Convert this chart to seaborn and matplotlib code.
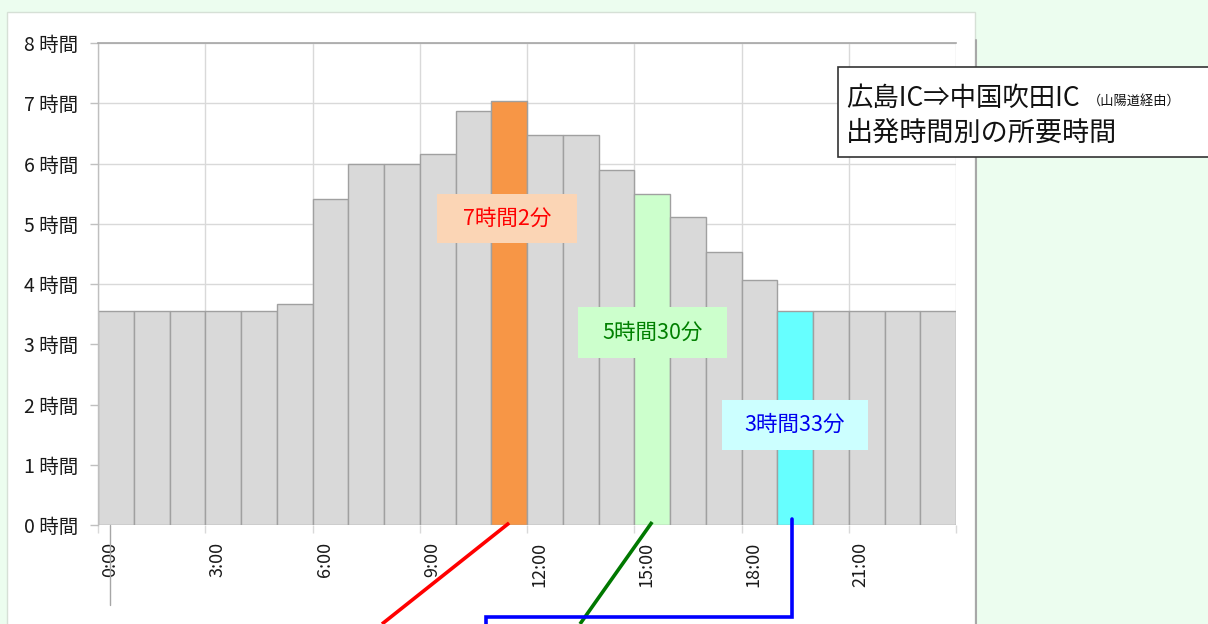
import matplotlib
matplotlib.use("Agg")
import matplotlib.pyplot as plt
import matplotlib.patches as mpatches
from matplotlib.lines import Line2D
import seaborn as sns
import pandas as pd

# ---- data ----
hours = [f"{h}:00" for h in range(24)]
durations = [3.55, 3.55, 3.55, 3.55, 3.55, 3.67, 5.41, 6.0, 6.0, 6.16, 6.87, 7.033,
             6.47, 6.47, 5.89, 5.5, 5.12, 4.53, 4.07, 3.55, 3.55, 3.55, 3.55, 3.55]
bar_colors = ["#d9d9d9"] * 24
bar_colors[11] = "#f79646"
bar_colors[15] = "#ccffcc"
bar_colors[19] = "#66ffff"
ytick_values = list(range(0, 9))
ytick_labels = [f"{v} 時間" for v in ytick_values]
xtick_hours = [0, 3, 6, 9, 12, 15, 18, 21]
xtick_labels = [f"{h}:00" for h in xtick_hours]
callouts = [
    ("7時間2分", 11, "#ff0000", "#fbd5b5"),
    ("5時間30分", 15, "#008000", "#ccffcc"),
    ("3時間33分", 19, "#0000ee", "#ccffff"),
]
title_main = "広島IC⇒中国吹田IC"
title_sub = "（山陽道経由）"
title_line2 = "出発時間別の所要時間"

sns.set_theme(style="white")
plt.rcParams['font.family'] = ['Noto Sans CJK JP', 'DejaVu Sans']

W, H = 1208, 624
fig = plt.figure(figsize=(W / 100, H / 100), dpi=100, facecolor="#ecfdef")

def fx(px):
    return px / W

def fy(py):
    return 1 - py / H

# white panel
panel = mpatches.Rectangle((fx(7), fy(700)), fx(975) - fx(7), fy(12) - fy(700),
                           transform=fig.transFigure, facecolor="white",
                           edgecolor="#d6e0d6", linewidth=1, zorder=-10)
fig.patches.append(panel)
fig.add_artist(Line2D([fx(975.5), fx(975.5)], [fy(40), 0], transform=fig.transFigure,
                      color="#a8a8a8", lw=1.5, zorder=-5))

L, R, T, B = 98, 956, 43, 525
ax = fig.add_axes([fx(L), fy(B), fx(R) - fx(L), fy(T) - fy(B)])
ax.set_facecolor("none")
ax.set_zorder(1)

df = pd.DataFrame({"hour": hours, "dur": durations})
sns.barplot(data=df, x="hour", y="dur", hue="hour", palette=bar_colors, legend=False,
            width=1.0, edgecolor="#a0a0a0", linewidth=1.0, saturation=1, ax=ax, zorder=2)

ax.set_xlim(-0.5, 23.5)
ax.set_ylim(0, 8)
ax.set_xlabel("")
ax.set_ylabel("")

# gridlines
ax.set_yticks(ytick_values)
ax.set_yticklabels(ytick_labels, fontsize=14, color="#1a1a1a")
ax.set_xticks([h - 0.5 for h in xtick_hours] + [23.5], minor=True)
ax.set_xticks([h - 0.164 for h in xtick_hours])
ax.set_xticklabels(xtick_labels, rotation=90, fontsize=13, color="#1a1a1a")
ax.grid(True, axis="y", color="#d9d9d9", lw=1, zorder=0)
ax.grid(True, axis="x", which="minor", color="#d9d9d9", lw=1, zorder=0)
ax.grid(False, axis="x", which="major")
ax.set_axisbelow(True)
ax.tick_params(axis="y", length=6, width=1, color="#c0c0c0", pad=8, left=True)
ax.tick_params(axis="x", which="major", length=0, pad=12)
ax.tick_params(axis="x", which="minor", length=6, width=1, color="#d9d9d9", bottom=True)
for s in ["right", "bottom"]:
    ax.spines[s].set_visible(False)
ax.spines["top"].set_color("#a6a6a6")
ax.spines["top"].set_linewidth(1.2)
ax.spines["left"].set_color("#bfbfbf")
ax.spines["left"].set_linewidth(1)

# stray axis line under 0:00
ax.plot([-0.164, -0.164], [0, -(605 - B) / 60.25], color="#a6a6a6", lw=1, clip_on=False)

def dx(px):
    return (px - L) / ((R - L) / 24) - 0.5

def dy(py):
    return (B - py) / ((B - T) / 8)

# callout boxes
boxes = [(437, 577, 194, 243), (578, 727, 307, 358), (722, 868, 400, 450)]
for (txt, idx, tc, bc), (x0, x1, y0, y1) in zip(callouts, boxes):
    ax.add_patch(mpatches.Rectangle((dx(x0), dy(y1)), dx(x1) - dx(x0), dy(y0) - dy(y1),
                                    facecolor=bc, edgecolor="none", zorder=4))
    ax.text((dx(x0) + dx(x1)) / 2, (dy(y0) + dy(y1)) / 2, txt, ha="center", va="center",
            fontsize=15.5, color=tc, zorder=5)

# leader lines
lw = 2.6
ax.plot([11, dx(382)], [dy(523), dy(624)], color="#ff0000", lw=lw, clip_on=False, zorder=6,
        solid_capstyle="butt")
ax.plot([15, dx(580)], [dy(522), dy(624)], color="#007800", lw=lw, clip_on=False, zorder=6,
        solid_capstyle="butt")
ax.plot([dx(792), dx(792), dx(486), dx(486)], [dy(519), dy(617), dy(617), dy(630)],
        color="#0000ff", lw=lw, clip_on=False, zorder=6, solid_joinstyle="miter")

# title box
tb = mpatches.Rectangle((fx(838), fy(157)), 1.05 - fx(838), fy(67) - fy(157),
                        transform=fig.transFigure, facecolor="white",
                        edgecolor="#333333", linewidth=1.2, zorder=5)
fig.patches.append(tb)
t1 = fig.text(fx(846), fy(98), title_main, fontsize=19, va="center", ha="left",
              color="#111111", zorder=6)
fig.canvas.draw()
bb = t1.get_window_extent()
fig.text(bb.x1 / W + fx(8), fy(101), title_sub, fontsize=9.5, va="center", ha="left",
         color="#111111", zorder=6)
fig.text(fx(846), fy(133), title_line2, fontsize=19.5, va="center", ha="left",
         color="#111111", zorder=6)

fig.savefig("out.png", dpi=100, facecolor=fig.get_facecolor())
